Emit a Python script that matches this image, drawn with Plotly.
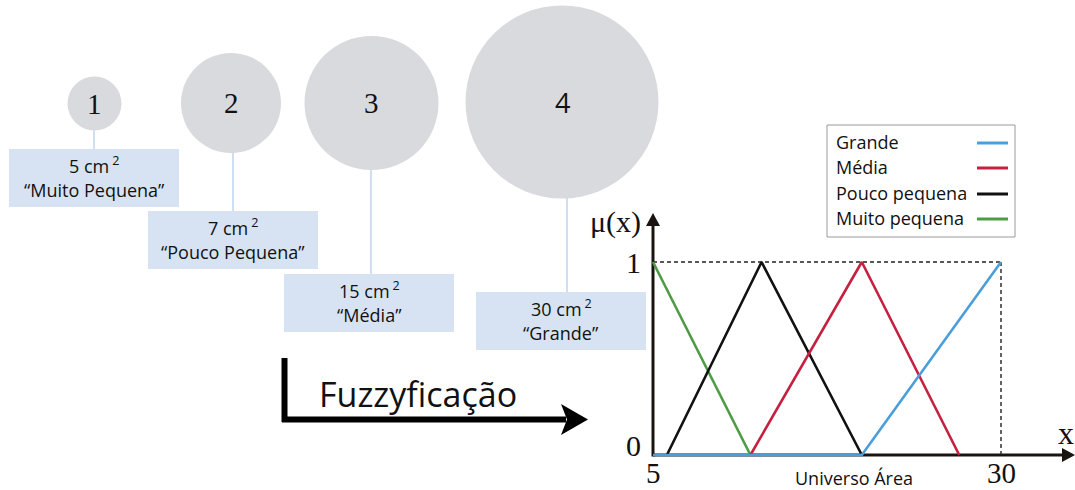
import plotly.graph_objects as go

# ---------------- data ----------------
circle_ids = ["1", "2", "3", "4"]
areas_cm2 = [5, 7, 15, 30]
area_names = ["“Muito Pequena”", "“Pouco Pequena”", "“Média”", "“Grande”"]
circle_diam_px = [54, 100, 134, 193]

set_names = ["Grande", "Média", "Pouco pequena", "Muito pequena"]
grande_x = [5, 20, 30]
grande_y = [0, 0, 1]
media_x = [12, 20, 27]
media_y = [0, 1, 0]
pouco_x = [6, 12.8, 20]
pouco_y = [0, 1, 0]
muito_x = [5, 12]
muito_y = [1, 0]
x_tick_vals = [5, 30]
y_tick_vals = [0, 1]

# ---------------- layout constants ----------------
W, H = 1075, 490
SANS = "Open Sans"
SERIF = "Liberation Serif"
C_BLUE = "#4A9ED9"
C_RED = "#C5203F"
C_BLACK = "#111111"
C_GREEN = "#4E9B45"
C_CIRCLE = "#D9DADE"
C_BOX = "#D7E3F3"
C_CONN = "#C3D6EE"

# pixel anchors of the fuzzy plot (value -> pixel)
X5_PX, X30_PX = 653, 1001
Y0_PX, Y1_PX = 455, 262
ppx = (X30_PX - X5_PX) / 25.0
ppy = (Y0_PX - Y1_PX) / 1.0
x_range = [5 - X5_PX / ppx, 5 + (W - X5_PX) / ppx]
y_range = [-(H - Y0_PX) / ppy, Y0_PX / ppy]

circle_cx = [94.5, 231, 371.5, 562]
circle_cy = [103.5, 103, 103, 102]
conn_x = [94, 233, 371, 567]
boxes = [(9, 149, 179, 207), (148, 211, 318, 269), (284, 274, 454, 332), (476, 292, 646, 350)]

fig = go.Figure()

# circles (pixel axes)
fig.add_trace(go.Scatter(
    x=circle_cx, y=circle_cy, xaxis="x2", yaxis="y2", mode="markers",
    marker=dict(size=circle_diam_px, color=C_CIRCLE, line=dict(width=0), opacity=1),
    showlegend=False, hoverinfo="skip", cliponaxis=False))

# membership functions (data axes)
for xs, ys, col in [(muito_x, muito_y, C_GREEN), (pouco_x, pouco_y, C_BLACK),
                    (media_x, media_y, C_RED), (grande_x, grande_y, C_BLUE)]:
    fig.add_trace(go.Scatter(x=xs, y=ys, mode="lines", line=dict(color=col, width=2.6),
                             showlegend=False, hoverinfo="skip", cliponaxis=False))

shapes = []
annotations = []

# connectors and boxes
for i in range(4):
    r = circle_diam_px[i] / 2
    shapes.append(dict(type="line", xref="x2", yref="y2", x0=conn_x[i], x1=conn_x[i],
                       y0=circle_cy[i] + r - 2, y1=boxes[i][1], line=dict(color=C_CONN, width=1.6),
                       layer="below"))
    x0, y0, x1, y1 = boxes[i]
    shapes.append(dict(type="rect", xref="x2", yref="y2", x0=x0, y0=y0, x1=x1, y1=y1,
                       fillcolor=C_BOX, line=dict(width=0), layer="below"))
    cx = (x0 + x1) / 2
    annotations.append(dict(xref="x2", yref="y2", x=cx, y=y0 + 16, showarrow=False,
                            text=f"{areas_cm2[i]} cm\u2009<sup>2</sup>",
                            font=dict(family=SANS, size=18, color="#111")))
    annotations.append(dict(xref="x2", yref="y2", x=cx, y=y0 + 41, showarrow=False,
                            text=area_names[i], font=dict(family=SANS, size=18, color="#111")))
    fam = SERIF if i < 3 else SANS
    annotations.append(dict(xref="x2", yref="y2", x=circle_cx[i], y=circle_cy[i],
                            showarrow=False, text=circle_ids[i],
                            font=dict(family=fam, size=29 if i < 3 else 27, color="#111")))

# Fuzzyficação arrow
shapes.append(dict(type="line", xref="x2", yref="y2", x0=284.5, x1=284.5, y0=358, y1=422,
                   line=dict(color="black", width=6)))
shapes.append(dict(type="line", xref="x2", yref="y2", x0=282, x1=566, y0=419.5, y1=419.5,
                   line=dict(color="black", width=6)))
shapes.append(dict(type="path", xref="x2", yref="y2",
                   path="M 561,404 L 588,419.5 L 561,435 L 567,419.5 Z",
                   fillcolor="black", line=dict(width=0)))
annotations.append(dict(xref="x2", yref="y2", x=418, y=394, showarrow=False,
                        text="Fuzzyficação", font=dict(family=SANS, size=34, color="#111")))

# fuzzy axes
AX = "#1a1410"
shapes.append(dict(type="line", xref="x2", yref="y2", x0=X5_PX, x1=1064, y0=Y0_PX, y1=Y0_PX,
                   line=dict(color=AX, width=3), layer="below"))
shapes.append(dict(type="line", xref="x2", yref="y2", x0=X5_PX, x1=X5_PX, y0=Y0_PX + 1.5, y1=224,
                   line=dict(color=AX, width=3), layer="below"))
shapes.append(dict(type="path", xref="x2", yref="y2",
                   path="M 1062,448 L 1075,455 L 1062,462 Z", fillcolor=AX, line=dict(width=0)))
shapes.append(dict(type="path", xref="x2", yref="y2",
                   path="M 646,226 L 653,213 L 660,226 Z", fillcolor=AX, line=dict(width=0)))

# dashed guide lines (data axes)
shapes.append(dict(type="line", xref="x", yref="y", x0=5, x1=30, y0=1, y1=1,
                   line=dict(color="#222", width=1.4, dash="4px,3px"), layer="below"))
shapes.append(dict(type="line", xref="x", yref="y", x0=30, x1=30, y0=1, y1=0,
                   line=dict(color="#222", width=1.4, dash="4px,3px"), layer="below"))

# tick labels
annotations.append(dict(xref="x", yref="y", x=5, y=y_tick_vals[1], xshift=-20, showarrow=False,
                        text=str(y_tick_vals[1]), font=dict(family=SERIF, size=30, color="#111")))
annotations.append(dict(xref="x", yref="y", x=5, y=y_tick_vals[0], xshift=-20, yshift=10,
                        showarrow=False, text=str(y_tick_vals[0]),
                        font=dict(family=SERIF, size=30, color="#111")))
for v in x_tick_vals:
    annotations.append(dict(xref="x", yref="y", x=v, y=0, yshift=-18, showarrow=False,
                            text=str(v), font=dict(family=SERIF, size=29, color="#111")))
annotations.append(dict(xref="x2", yref="y2", x=615, y=222, showarrow=False, text="μ(x)",
                        font=dict(family=SERIF, size=30, color="#111")))
annotations.append(dict(xref="x2", yref="y2", x=1066, y=433, showarrow=False, text="x",
                        font=dict(family=SERIF, size=32, color="#111")))
annotations.append(dict(xref="x2", yref="y2", x=854, y=478, showarrow=False, text="Universo Área",
                        font=dict(family=SANS, size=18, color="#111")))

# custom legend
shapes.append(dict(type="rect", xref="x2", yref="y2", x0=827, y0=125, x1=1015, y1=237,
                   fillcolor="white", line=dict(color="#9a9a9a", width=1), layer="below"))
leg_y = [142, 167, 193, 218]
leg_cols = [C_BLUE, C_RED, C_BLACK, C_GREEN]
for name, yy, col in zip(set_names, leg_y, leg_cols):
    annotations.append(dict(xref="x2", yref="y2", x=834, y=yy, xanchor="left", showarrow=False,
                            text=name, font=dict(family=SANS, size=18, color="#111")))
    shapes.append(dict(type="line", xref="x2", yref="y2", x0=977, x1=1008, y0=yy + 1, y1=yy + 1,
                       line=dict(color=col, width=3)))

fig.update_layout(
    width=W, height=H, margin=dict(l=0, r=0, t=0, b=0),
    paper_bgcolor="white", plot_bgcolor="white", showlegend=False,
    xaxis=dict(range=x_range, domain=[0, 1], visible=False, fixedrange=True),
    yaxis=dict(range=y_range, domain=[0, 1], visible=False, fixedrange=True),
    xaxis2=dict(range=[0, W], overlaying="x", anchor="y2", visible=False, fixedrange=True),
    yaxis2=dict(range=[H, 0], overlaying="y", anchor="x2", visible=False, fixedrange=True),
    shapes=shapes, annotations=annotations,
)

fig.write_html("out.html", config={"displayModeBar": False},
               post_script="document.body.style.margin='0';document.body.style.overflow='hidden';")
